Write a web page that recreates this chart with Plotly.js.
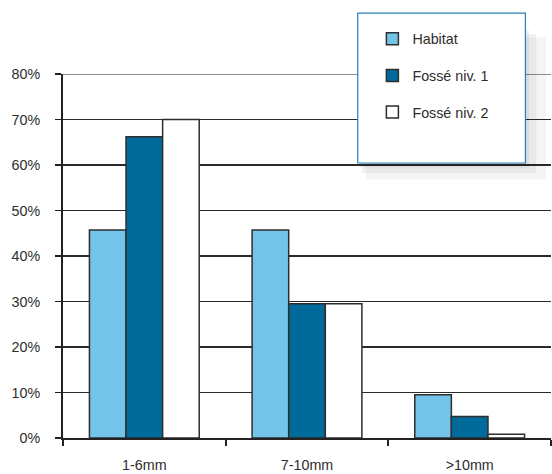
<!DOCTYPE html>
<html><head><meta charset="utf-8">
<script src="https://cdn.plot.ly/plotly-3.0.1.min.js"></script>
<style>html,body{margin:0;padding:0;background:#fff}</style>
</head><body>
<div id="chart" style="width:552px;height:474px"></div>
<script>
const categories = ["1-6mm", "7-10mm", ">10mm"];
const seriesNames = ["Habitat", "Fossé niv. 1", "Fossé niv. 2"];
const habitat = [0.457, 0.457, 0.095];
const fosse1 = [0.662, 0.295, 0.047];
const fosse2 = [0.70, 0.295, 0.008];
const yTicks = [0, 0.1, 0.2, 0.3, 0.4, 0.5, 0.6, 0.7, 0.8];
const yTickLabels = ["0%", "10%", "20%", "30%", "40%", "50%", "60%", "70%", "80%"];

const colors = ["#72c4e8", "#006b9b", "#ffffff"];
const values = [habitat, fosse1, fosse2];
const traces = values.map((v, i) => ({
  type: "bar", x: categories, y: v, name: seriesNames[i],
  legendgroup: "g" + i,
  marker: {color: colors[i], line: {color: "#2e2e2e", width: 1.5}},
  hoverinfo: "skip"
}));

const fnt = {family: "Liberation Sans, Arial, sans-serif", size: 14.3, color: "#2d2d2d"};
const layout = {
  width: 552, height: 474,
  margin: {l: 63, r: 1, t: 74, b: 36},
  paper_bgcolor: "#ffffff", plot_bgcolor: "#ffffff",
  barmode: "group", bargap: 0.325, bargroupgap: 0,
  font: fnt,
  showlegend: true,
  legend: {
    x: 0.634, y: 1.14, xanchor: "left", yanchor: "top",
    bgcolor: "rgba(0,0,0,0)", borderwidth: 0,
    traceorder: "grouped", tracegroupgap: 15,
    font: fnt
  },
  xaxis: {
    type: "category", range: [-0.5, 2.5],
    showline: true, linecolor: "#222", linewidth: 2,
    ticks: "outside", tickson: "boundaries", ticklen: 6, tickwidth: 2, tickcolor: "#222",
    showgrid: false, ticklabelstandoff: 13, tickfont: fnt, fixedrange: true
  },
  yaxis: {
    range: [0, 0.8], tickvals: yTicks, ticktext: yTickLabels,
    showline: true, linecolor: "#222", linewidth: 2,
    ticks: "outside", ticklen: 6, tickwidth: 1.5, tickcolor: "#222",
    showgrid: true, gridcolor: "#2a2a2a", gridwidth: 1.6,
    zeroline: false, ticklabelstandoff: 12, tickfont: fnt, fixedrange: true
  },
  shapes: [
    {type: "line", xref: "paper", yref: "y", x0: 0, x1: 1, y0: 0.8, y1: 0.8,
     line: {color: "#8a9298", width: 2}, layer: "above"},
    {type: "rect", xref: "paper", yref: "paper", x0: 0.62, x1: 0.99, y0: 0.71, y1: 1.10,
     fillcolor: "rgba(0,0,0,0.04)", line: {width: 0}, layer: "above"},
    {type: "rect", xref: "paper", yref: "paper", x0: 0.613, x1: 0.97, y0: 0.728, y1: 1.11,
     fillcolor: "rgba(0,0,0,0.05)", line: {width: 0}, layer: "above"},
    {type: "rect", xref: "paper", yref: "paper", x0: 0.607, x1: 0.955, y0: 0.743, y1: 1.12,
     fillcolor: "rgba(0,0,0,0.06)", line: {width: 0}, layer: "above"},
    {type: "rect", xref: "paper", yref: "paper", x0: 0.604, x1: 0.9475, y0: 0.7555, y1: 1.1675,
     fillcolor: "#ffffff", line: {color: "#2a80b9", width: 1.2}, layer: "above"}
  ]
};
Plotly.newPlot("chart", traces, layout, {displayModeBar: false, staticPlot: true});
</script>
</body></html>
